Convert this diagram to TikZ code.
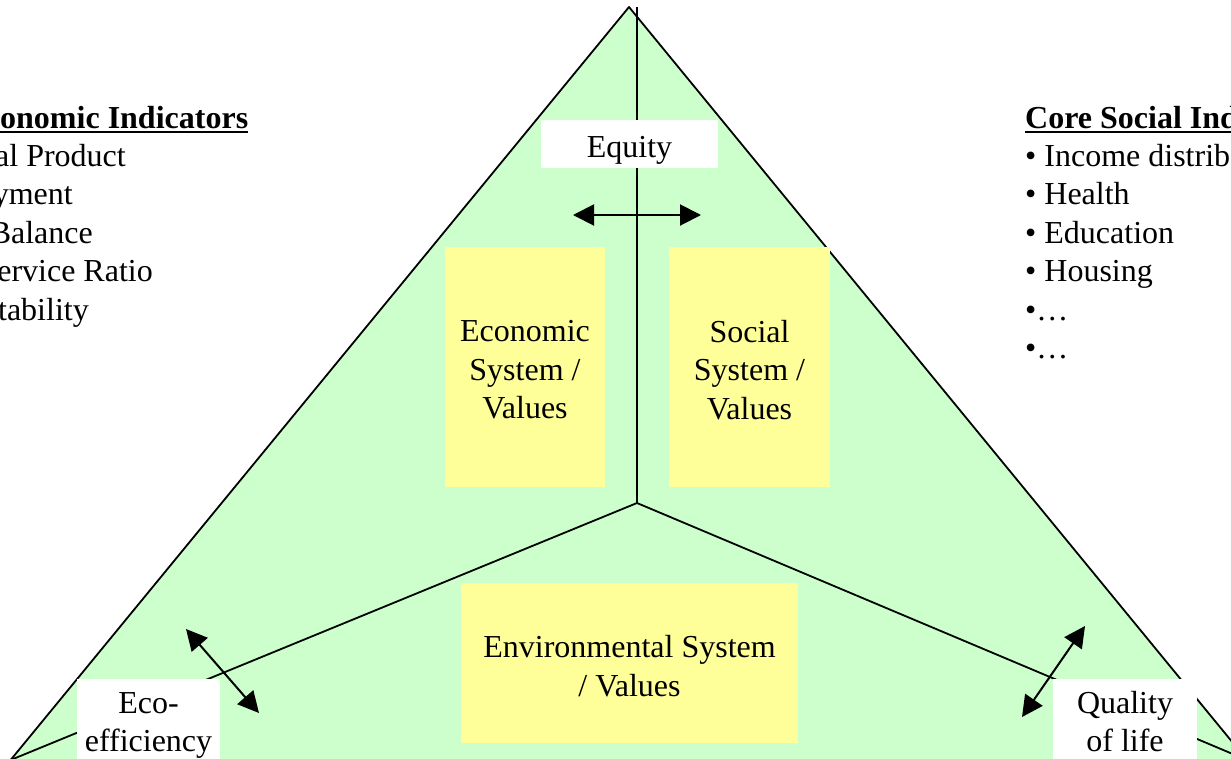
\documentclass[tikz,border=0pt]{standalone}
\usepackage{fontspec}
\setmainfont{Liberation Serif}
\usetikzlibrary{arrows.meta}
\definecolor{tgreen}{RGB}{204,255,204}
\definecolor{tyellow}{RGB}{255,255,153}
\begin{document}
\begin{tikzpicture}[x=1pt,y=-1pt,
  txt/.style={font=\fontsize{32}{38.4}\selectfont, inner sep=0pt},
  hdr/.style={inner sep=0pt, font=\fontsize{32}{38.4}\selectfont\bfseries},
  ybox/.style={fill=tyellow, draw=none, inner sep=0pt},
  btxt/.style={txt, align=center, yshift=-3pt},
  wbox/.style={fill=white, draw=none, inner sep=0pt},
  sideline/.style={line width=1.8pt, line join=round},
  uline/.style={line width=2.5pt},
  dbl/.style={line width=2pt, {Triangle[length=21pt,width=21pt]}-{Triangle[length=21pt,width=21pt]}}
]
\useasboundingbox (0,0) rectangle (1231,758);
\clip (0,0) rectangle (1231,758);

\coordinate (apex) at (629,7);
\coordinate (bl) at (10.6,760);
\coordinate (br) at (1247,760);
\coordinate (ctr) at (637,503);
\coordinate (vtop) at (637,7);

\fill[tgreen] (apex) -- (bl) -- (br) -- cycle;
\draw[sideline] (bl) -- (apex) -- (br);
\draw[sideline] (vtop) -- (ctr);
\draw[sideline] (bl) -- (ctr) -- (br);

\node[ybox, minimum width=160pt, minimum height=240pt] (econ) at (525,367) {};
\node[btxt] (econt) at (econ.center) {Economic\\System /\\Values};
\node[ybox, minimum width=161pt, minimum height=240pt] (soc) at (749.5,367) {};
\node[btxt] (soct) at (soc.center) {Social\\System /\\Values};
\node[ybox, minimum width=337pt, minimum height=160pt] (env) at (629.5,663) {};
\node[btxt] (envt) at (env.center) {Environmental System\\/ Values};

\node[wbox, txt, minimum width=177pt, text height=37pt, text depth=11pt] (equity) at (629.5,144) {Equity};

\node[wbox, minimum width=143pt, minimum height=90pt, anchor=north] (ecobox) at (148.5,679) {};
\node[txt, anchor=base] (eco1) at (148.5,713) {Eco-};
\node[txt, anchor=base] (eco2) at (148.5,751) {efficiency};
\node[wbox, minimum width=144pt, minimum height=90pt, anchor=north] (qbox) at (1125,679) {};
\node[txt, anchor=base] (q1) at (1125,713) {Quality};
\node[txt, anchor=base] (q2) at (1125,751) {of life};

\coordinate (eqL) at (573,215);
\coordinate (eqR) at (701,215);
\draw[dbl] (eqL) -- (eqR);
\coordinate (a1) at (186,629);
\coordinate (a2) at (259,713);
\draw[dbl] (a1) -- (a2);
\coordinate (b1) at (1085,626);
\coordinate (b2) at (1022,717);
\draw[dbl] (b1) -- (b2);

% left indicators
\node[hdr, anchor=base west] (lhdr) at (0,128) {onomic Indicators};
\draw[uline] ([yshift=-4pt]lhdr.base west) -- ([yshift=-4pt]lhdr.base east);
\node[txt, anchor=base east] (l1) at (126,166.4) {al Product};
\node[txt, anchor=base east] (l2) at (73,204.8) {yment};
\node[txt, anchor=base east] (l3) at (93,243.2) {Balance};
\node[txt, anchor=base east] (l4) at (153,281.6) {ervice Ratio};
\node[txt, anchor=base east] (l5) at (89,320) {tability};

% right indicators
\node[hdr, anchor=base west] (rhdr) at (1025,128) {Core Social Ind};
\draw[uline] ([yshift=-4pt]rhdr.base west) -- ([yshift=-4pt]rhdr.base east);
\node[txt, anchor=base west] (r1) at (1025,166.4) {• Income distrib};
\node[txt, anchor=base west] (r2) at (1025,204.8) {• Health};
\node[txt, anchor=base west] (r3) at (1025,243.2) {• Education};
\node[txt, anchor=base west] (r4) at (1025,281.6) {• Housing};
\node[txt, anchor=base west] (r5) at (1025,320) {•…};
\node[txt, anchor=base west] (r6) at (1025,358.4) {•…};
\end{tikzpicture}
\end{document}
